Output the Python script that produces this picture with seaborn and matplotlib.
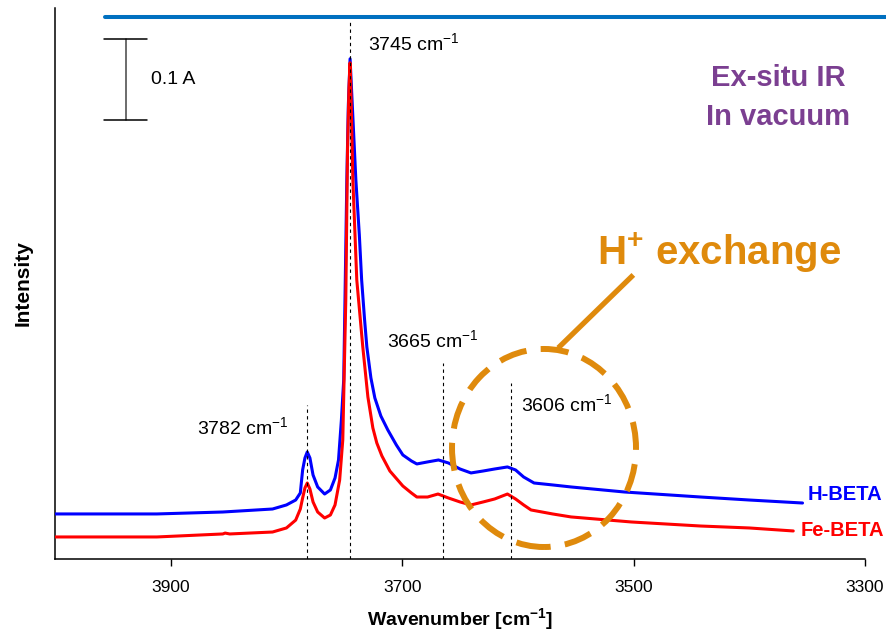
import numpy as np
import pandas as pd
import matplotlib
matplotlib.use("Agg")
import matplotlib.pyplot as plt
from matplotlib.patches import Ellipse
from matplotlib.lines import Line2D
import seaborn as sns

# ---- spectra (wavenumber in cm-1, absorbance in A) ----
h_beta_wn = [4000, 3950, 3912, 3855, 3812, 3800, 3792, 3788, 3786, 3784, 3782, 3779.7,
             3777, 3773, 3767, 3762, 3758, 3755, 3752.5, 3750.5, 3749.4, 3747.8, 3746.5,
             3745, 3743.5, 3740, 3737, 3735, 3732.5, 3730.5, 3727, 3723.6, 3718.4,
             3712.4, 3705, 3699.4, 3692, 3687.3, 3678, 3668.6, 3660, 3650, 3640.5, 3630,
             3620, 3609, 3602, 3595, 3586, 3570, 3554, 3508, 3442, 3400, 3354]
h_beta_abs = [0.0556, 0.0556, 0.0556, 0.0580, 0.0617, 0.0667, 0.0728, 0.0815, 0.1099,
              0.1247, 0.1321, 0.1247, 0.1037, 0.0889, 0.0802, 0.0852, 0.1000, 0.1222,
              0.1716, 0.2210, 0.3198, 0.4679, 0.5600, 0.6173, 0.5728, 0.4679, 0.4000,
              0.3444, 0.2960, 0.2617, 0.2235, 0.1988, 0.1765, 0.1593, 0.1407, 0.1284,
              0.1210, 0.1173, 0.1198, 0.1222, 0.1185, 0.1111, 0.1062, 0.1086, 0.1111,
              0.1136, 0.1099, 0.1012, 0.0938, 0.0914, 0.0889, 0.0827, 0.0765, 0.0728,
              0.0691]

fe_beta_wn = [4000, 3950, 3912, 3855, 3853, 3849, 3812, 3800, 3792, 3788, 3786, 3784,
              3782, 3779.7, 3777, 3773, 3767, 3762, 3758, 3754, 3751.3, 3748.7, 3747.2,
              3746, 3745, 3744.3, 3742.6, 3739.2, 3734, 3729.6, 3725.3, 3721.9, 3717.5,
              3710.6, 3699.4, 3692, 3687.3, 3678, 3669, 3660, 3650, 3640.5, 3630, 3620,
              3609, 3602, 3595, 3588.6, 3570, 3554, 3502, 3442, 3400, 3362]
fe_beta_abs = [0.0272, 0.0272, 0.0272, 0.0309, 0.0320, 0.0309, 0.0333, 0.0383, 0.0480,
               0.0617, 0.0753, 0.0877, 0.0938, 0.0864, 0.0704, 0.0580, 0.0506, 0.0543,
               0.0667, 0.0975, 0.1469, 0.3198, 0.5049, 0.5800, 0.6124, 0.5800, 0.4679,
               0.3444, 0.2617, 0.2000, 0.1617, 0.1432, 0.1272, 0.1086, 0.0901, 0.0815,
               0.0765, 0.0765, 0.0802, 0.0753, 0.0704, 0.0667, 0.0704, 0.0741, 0.0802,
               0.0741, 0.0667, 0.0605, 0.0556, 0.0519, 0.0457, 0.0407, 0.0383, 0.0346]

series_names = ["H-BETA", "Fe-BETA"]
series_colors = ["#0000FF", "#FF0000"]

# marked bands: position and top of the guide line (A)
band_positions = [3782, 3745, 3665, 3606]
band_line_tops = [0.190, 0.663, 0.242, 0.217]
band_label_pos = [(3877.5, 0.163), (3729.6, 0.637), (3713, 0.270), (3597.4, 0.191)]

x_ticks = [3900, 3700, 3500, 3300]
scale_bar_value = 0.1  # absorbance

# ---- figure ----
sns.set_theme(style="white")
plt.rcParams["font.family"] = ["Liberation Sans", "DejaVu Sans"]
plt.rcParams["mathtext.fontset"] = "custom"
plt.rcParams["mathtext.rm"] = "Liberation Sans"
plt.rcParams["mathtext.it"] = "Liberation Sans:italic"
plt.rcParams["mathtext.bf"] = "Liberation Sans:bold"
plt.rcParams["text.color"] = "black"
plt.rcParams["axes.labelcolor"] = "black"
plt.rcParams["xtick.color"] = "black"
plt.rcParams["xtick.labelcolor"] = "black"

fig = plt.figure(figsize=(8.86, 6.34), dpi=100)
ax = fig.add_axes([55 / 886, 75 / 634, 810 / 886, 551 / 634])

df = pd.concat([
    pd.DataFrame({"wn": h_beta_wn, "abs": h_beta_abs, "sample": series_names[0]}),
    pd.DataFrame({"wn": fe_beta_wn, "abs": fe_beta_abs, "sample": series_names[1]}),
])
sns.lineplot(data=df, x="wn", y="abs", hue="sample", hue_order=series_names,
             palette=series_colors, linewidth=2.2, legend=False, ax=ax,
             estimator=None, sort=True, zorder=3)

ax.set_xlim(4000, 3300)
ax.set_ylim(0, 0.680)
ax.set_xticks(x_ticks)
ax.set_xticklabels([str(t) for t in x_ticks])
ax.set_yticks([])
for side in ["top", "right"]:
    ax.spines[side].set_visible(False)
for side in ["left", "bottom"]:
    ax.spines[side].set_color("black")
    ax.spines[side].set_linewidth(1.1)
ax.tick_params(axis="x", direction="out", length=5, width=1, color="black",
               labelsize=12.5, pad=10, bottom=True)

ax.set_xlabel("Wavenumber [cm$^{\\mathbf{-1}}$]", fontsize=14, fontweight="bold",
              labelpad=8)
ax.set_ylabel("Intensity", fontsize=15, fontweight="bold")
ax.yaxis.set_label_coords(-0.028, 0.5)

# guide lines and band labels
for pos, top, (lx, ly) in zip(band_positions, band_line_tops, band_label_pos):
    ax.plot([pos, pos], [0, top], color="black", lw=0.8, ls=(0, (3, 3)), zorder=4)
    ax.text(lx, ly, f"{pos} cm$^{{-1}}$", fontsize=14, ha="left", va="center")

# absorbance scale bar
bar_x, bar_top = 3938.9, 0.642
ax.plot([bar_x, bar_x], [bar_top - scale_bar_value, bar_top], color="#444444", lw=1.1)
for yy in (bar_top, bar_top - scale_bar_value):
    ax.plot([3957.8, 3920.7], [yy, yy], color="black", lw=1.1)
ax.text(3917, bar_top - scale_bar_value / 2, f"{scale_bar_value} A", fontsize=14,
        ha="left", va="center")

# series labels
ax.text(3350, 0.079, series_names[0], color=series_colors[0], fontsize=14.5,
        fontweight="bold", ha="left", va="center")
ax.text(3356, 0.0346, series_names[1], color=series_colors[1], fontsize=14.5,
        fontweight="bold", ha="left", va="center")

# conditions
purple = "#7B3F91"
ax.text(3375, 0.593, "Ex-situ IR", color=purple, fontsize=21, fontweight="bold",
        ha="center", va="center")
ax.text(3375, 0.545, "In vacuum", color=purple, fontsize=21, fontweight="bold",
        ha="center", va="center")

# proton-exchange call-out
orange = "#DF8A0C"
ax.add_patch(Ellipse((3577.4, 0.137), 159, 0.2444, fill=False, edgecolor=orange,
                     lw=4.3, ls=(0, (4.7, 2.4)), capstyle="butt", zorder=5))
ax.plot([3565.1, 3500.2], [0.2605, 0.3506], color=orange, lw=3.8,
        solid_capstyle="butt", zorder=5)
ax.text(3531.6, 0.363, "H$^{\\mathbf{+}}$ exchange", color=orange, fontsize=29,
        fontweight="bold", ha="left", va="baseline")

# header rule
fig.add_artist(Line2D([105 / 886, 1.0], [1 - 17 / 634, 1 - 17 / 634],
                      color="#0070C0", lw=2.9, transform=fig.transFigure))

fig.savefig("out.png", dpi=100)
